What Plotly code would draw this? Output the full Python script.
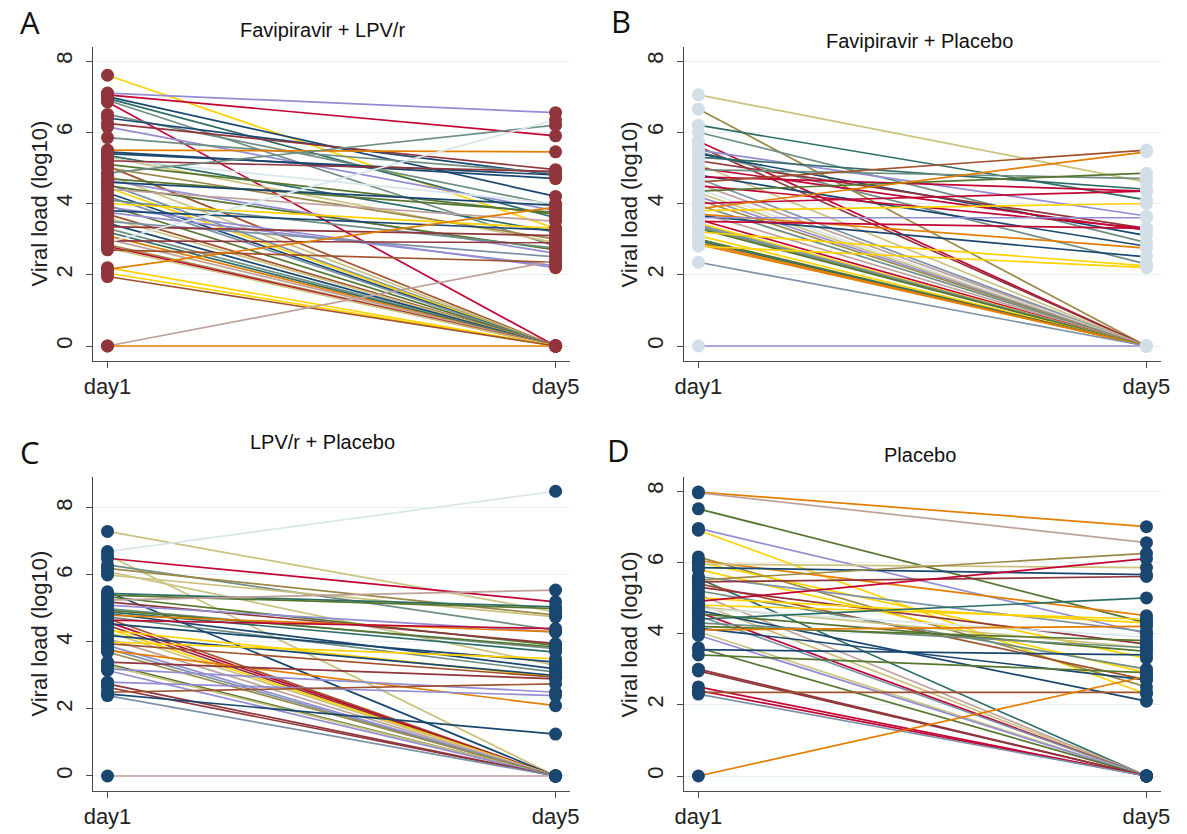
import plotly.graph_objects as go

W, H = 1187, 834

# Stata s2color palette
PALETTE = {
    "navy": "#1a476f", "maroon": "#90353b", "forest_green": "#55752f",
    "dkorange": "#e37e00", "teal": "#6e8e84", "cranberry": "#c10534",
    "lavender": "#938dd2", "khaki": "#cac27e", "sienna": "#a0522d",
    "emidblue": "#7b92a8", "emerald": "#2d6d66", "brown": "#9c8847",
    "erose": "#bfa19c", "gold": "#ffd200", "bluishgray": "#d9e6eb",
}

days = ["day1", "day5"]

# ---- Favipiravir + LPV/r ----
a_day1 = [7.6, 7.1, 7.05, 7.0, 6.95, 6.85, 6.9, 6.5, 6.4, 6.25, 6.15, 5.85, 5.5, 5.45,
          5.4, 5.35, 5.3, 5.25, 5.2, 5.1, 5.05, 5.0, 4.85, 4.8, 4.7, 4.65, 4.6, 4.55,
          4.5, 4.45, 4.4, 4.3, 4.2, 4.1, 4.0, 3.95, 3.9, 3.8, 3.75, 3.7, 3.6, 3.5,
          3.45, 3.35, 3.3, 3.2, 3.1, 3.0, 2.95, 2.9, 2.85, 2.8, 2.75, 2.7, 2.2,
          2.15, 2.05, 1.95, 0.0, 0.0]
a_day5 = [3.3, 6.55, 5.9, 4.2, 3.6, 0.0, 2.8, 3.95, 4.8, 4.95, 3.8, 4.85, 5.45, 4.7,
          4.8, 3.2, 2.9, 4.0, 4.9, 3.7, 0.0, 3.0, 6.2, 0.0, 3.75, 2.6, 3.95, 0.0,
          2.7, 0.0, 3.5, 0.0, 0.0, 2.75, 3.3, 0.0, 2.2, 3.25, 2.25, 0.0, 0.0, 2.5,
          0.0, 3.1, 0.0, 0.0, 0.0, 0.0, 2.9, 6.35, 0.0, 0.0, 0.0, 2.35, 0.0,
          3.9, 0.0, 0.0, 2.4, 0.0]

# ---- Favipiravir + Placebo ----
b_day1 = [7.05, 6.65, 6.2, 6.0, 5.75, 5.6, 5.5, 5.45, 5.4, 5.3, 5.2, 5.1, 5.0, 4.95,
          4.8, 4.75, 4.7, 4.6, 4.55, 4.5, 4.4, 4.35, 4.3, 4.2, 4.1, 4.0, 3.95, 3.85,
          3.8, 3.75, 3.7, 3.65, 3.6, 3.55, 3.5, 3.45, 3.4, 3.35, 3.3, 3.2, 3.1,
          3.0, 2.95, 2.9, 2.85, 2.8, 2.35, 0.0]
b_day5 = [4.6, 0.0, 4.1, 2.9, 0.0, 0.0, 3.65, 2.3, 3.1, 4.4, 3.3, 0.0, 3.25, 4.7,
          2.8, 4.35, 0.0, 5.5, 0.0, 3.3, 0.0, 4.85, 0.0, 0.0, 0.0, 4.35, 0.0, 5.45,
          4.0, 0.0, 2.75, 2.5, 3.6, 0.0, 3.3, 0.0, 0.0, 0.0, 0.0, 2.25, 0.0,
          0.0, 0.0, 0.0, 0.0, 2.2, 0.0, 0.0]

# ---- LPV/r + Placebo ----
c_day1 = [7.3, 6.7, 6.6, 6.5, 6.3, 6.2, 6.1, 6.0, 5.5, 5.45, 5.4, 5.35, 5.25, 5.2,
          5.1, 5.0, 4.95, 4.9, 4.85, 4.8, 4.75, 4.7, 4.65, 4.6, 4.55, 4.5, 4.4,
          4.35, 4.3, 4.2, 4.1, 4.0, 3.95, 3.9, 3.8, 3.75, 3.7, 3.4, 3.35, 3.3,
          3.2, 3.15, 2.8, 2.75, 2.65, 2.5, 2.45, 2.4, 0.0]
c_day5 = [4.9, 8.5, 0.0, 5.2, 4.35, 4.8, 3.3, 4.75, 0.0, 5.05, 5.0, 3.9, 5.55, 3.95,
          4.3, 3.8, 3.85, 3.7, 3.2, 4.3, 3.1, 0.0, 4.4, 0.0, 3.4, 0.0, 0.0,
          2.95, 0.0, 3.0, 0.0, 3.5, 2.95, 0.0, 0.0, 2.1, 0.0, 2.9, 0.0, 0.0,
          2.5, 0.0, 2.4, 0.0, 0.0, 2.75, 1.25, 0.0, 0.0]

# ---- Placebo ----
d_day1 = [7.97, 7.95, 7.5, 6.95, 6.9, 6.15, 6.05, 6.0, 5.95, 5.85, 5.8, 5.6, 5.55,
          5.5, 5.45, 5.4, 5.3, 5.2, 5.1, 5.0, 4.9, 4.85, 4.8, 4.75, 4.7, 4.65, 4.6,
          4.55, 4.5, 4.4, 4.3, 4.2, 4.15, 4.1, 4.05, 3.95, 3.6, 3.55, 3.4, 3.0,
          2.95, 2.5, 2.4, 2.35, 2.3, 0.0]
d_day5 = [7.0, 6.55, 4.3, 4.0, 2.3, 2.5, 4.5, 3.3, 5.85, 5.65, 2.9, 4.05, 0.0,
          6.25, 5.6, 2.7, 3.7, 3.0, 0.0, 4.3, 6.1, 0.0, 4.4, 3.6, 3.9, 2.1, 0.0,
          3.5, 0.0, 5.0, 3.6, 3.8, 2.7, 4.2, 0.0, 0.0, 0.0, 3.4, 2.9, 0.0,
          0.0, 0.0, 0.0, 2.35, 0.0, 2.8]

# line colours per subject (drawn in listed order)
a_colors = ["gold", "lavender", "cranberry", "navy", "emerald", "cranberry", "teal", "teal",
            "navy", "maroon", "lavender", "teal", "dkorange", "navy", "navy", "emerald",
            "khaki", "bluishgray", "maroon", "forest_green", "sienna", "brown", "teal",
            "khaki", "forest_green", "lavender", "navy", "emidblue", "forest_green", "gold",
            "erose", "navy", "emidblue", "teal", "gold", "forest_green", "lavender", "navy",
            "lavender", "sienna", "khaki", "emidblue", "navy", "maroon", "teal", "emerald",
            "dkorange", "erose", "maroon", "bluishgray", "brown", "cranberry", "khaki",
            "sienna", "gold", "dkorange", "gold", "sienna", "erose", "dkorange"]
b_colors = ["khaki", "brown", "emerald", "teal", "cranberry", "maroon", "lavender", "teal",
            "navy", "emerald", "maroon", "khaki", "cranberry", "teal", "navy", "cranberry",
            "emidblue", "sienna", "erose", "cranberry", "bluishgray", "forest_green", "khaki",
            "lavender", "brown", "cranberry", "teal", "dkorange", "gold", "erose", "dkorange",
            "navy", "lavender", "cranberry", "cranberry", "gold", "emidblue", "teal",
            "forest_green", "gold", "gold", "forest_green", "emerald", "dkorange",
            "dkorange", "gold", "emidblue", "lavender"]
c_colors = ["khaki", "bluishgray", "khaki", "cranberry", "teal", "brown", "khaki", "khaki",
            "navy", "emerald", "forest_green", "forest_green", "erose", "maroon", "lavender",
            "teal", "forest_green", "emerald", "navy", "dkorange", "teal", "sienna",
            "cranberry", "cranberry", "navy", "maroon", "gold", "gold", "khaki", "navy",
            "erose", "gold", "sienna", "lavender", "emidblue", "dkorange", "brown", "maroon",
            "forest_green", "khaki", "lavender", "lavender", "lavender", "maroon", "maroon",
            "sienna", "navy", "emidblue", "erose"]
d_colors = ["dkorange", "erose", "forest_green", "lavender", "gold", "brown", "dkorange",
            "gold", "khaki", "navy", "gold", "emidblue", "emerald", "brown", "maroon",
            "sienna", "maroon", "teal", "erose", "gold", "cranberry", "khaki", "gold",
            "khaki", "bluishgray", "navy", "cranberry", "forest_green", "emidblue",
            "emerald", "teal", "forest_green", "navy", "dkorange", "khaki", "lavender",
            "forest_green", "navy", "forest_green", "maroon", "maroon", "cranberry",
            "cranberry", "sienna", "emidblue", "dkorange"]

titles = ["Favipiravir + LPV/r", "Favipiravir + Placebo", "LPV/r + Placebo", "Placebo"]
letters = ["A", "B", "C", "D"]

panels = [
    dict(d1=a_day1, d5=a_day5, cols=a_colors, marker=PALETTE["maroon"]),
    dict(d1=b_day1, d5=b_day5, cols=b_colors, marker="#d3dfe7"),
    dict(d1=c_day1, d5=c_day5, cols=c_colors, marker=PALETTE["navy"]),
    dict(d1=d_day1, d5=d_day5, cols=d_colors, marker=PALETTE["navy"]),
]

# plot-region geometry in pixels: (left, right, top, bottom, y-range)
geom = [
    (85, 570, 47, 361, [-0.421, 8.393]),
    (685, 1170, 47, 361, [-0.421, 8.393]),
    (85, 570, 477, 791, [-0.448, 8.925]),
    (685, 1170, 477, 791, [-0.421, 8.393]),
]
title_pos = [(318, 30), (925, 41), (318, 442), (925, 455)]
letter_pos = [(21, 22), (621, 21), (21, 452), (619, 450)]

FONT = "Liberation Sans, Arial, sans-serif"
AXIS_COL = "#4a4a4a"

fig = go.Figure()
annotations = []
layout_axes = {}

for i, (p, g) in enumerate(zip(panels, geom)):
    n = i + 1
    xa = "x" if n == 1 else f"x{n}"
    ya = "y" if n == 1 else f"y{n}"
    left, right, top, bottom, yr = g
    for v1, v5, c in zip(p["d1"], p["d5"], p["cols"]):
        fig.add_trace(go.Scatter(
            x=[0, 1], y=[v1, v5], mode="lines",
            line=dict(color=PALETTE[c], width=1.7),
            xaxis=xa, yaxis=ya, showlegend=False, hoverinfo="skip"))
    fig.add_trace(go.Scatter(
        x=[0] * len(p["d1"]) + [1] * len(p["d5"]),
        y=list(p["d1"]) + list(p["d5"]),
        mode="markers",
        marker=dict(color=p["marker"], size=13, line=dict(width=0)),
        xaxis=xa, yaxis=ya, showlegend=False, hoverinfo="skip"))

    xkey = "xaxis" if n == 1 else f"xaxis{n}"
    ykey = "yaxis" if n == 1 else f"yaxis{n}"
    layout_axes[xkey] = dict(
        domain=[left / W, right / W], anchor=ya,
        range=[-0.033, 1.033], tickvals=[0, 1], ticktext=days,
        showgrid=False, zeroline=False, showline=True, linecolor=AXIS_COL,
        linewidth=1, ticks="outside", ticklen=6, tickcolor=AXIS_COL,
        tickfont=dict(family=FONT, size=22, color="#222222"), fixedrange=True)
    layout_axes[ykey] = dict(
        domain=[1 - bottom / H, 1 - top / H], anchor=xa,
        range=yr, tickvals=[0, 2, 4, 6, 8],
        showgrid=True, gridcolor="#e9f0f2", gridwidth=1,
        zeroline=False, showline=True, linecolor=AXIS_COL, linewidth=1,
        ticks="outside", ticklen=6, tickcolor=AXIS_COL, tickangle=-90,
        ticklabelstandoff=5,
        tickfont=dict(family=FONT, size=22, color="#222222"), fixedrange=True)

    tx, ty = title_pos[i]
    annotations.append(dict(
        text=titles[i], x=tx / W, y=1 - ty / H, xref="paper", yref="paper",
        xanchor="center", yanchor="middle", showarrow=False,
        font=dict(family=FONT, size=20, color="#111111")))
    lx, ly = letter_pos[i]
    annotations.append(dict(
        text=letters[i], x=lx / W, y=1 - ly / H, xref="paper", yref="paper",
        xanchor="center", yanchor="middle", showarrow=False,
        font=dict(family="Open Sans, sans-serif", size=31, color="#111111")))
    annotations.append(dict(
        text="Viral load (log10)", x=(left - 55) / W, y=1 - ((top + bottom) / 2) / H,
        xref="paper", yref="paper", xanchor="center", yanchor="middle",
        textangle=-90, showarrow=False,
        font=dict(family=FONT, size=22, color="#222222")))

fig.update_layout(
    width=W, height=H, margin=dict(l=0, r=0, t=0, b=0),
    paper_bgcolor="white", plot_bgcolor="white",
    annotations=annotations, **layout_axes)

fig.write_html("out.html")
